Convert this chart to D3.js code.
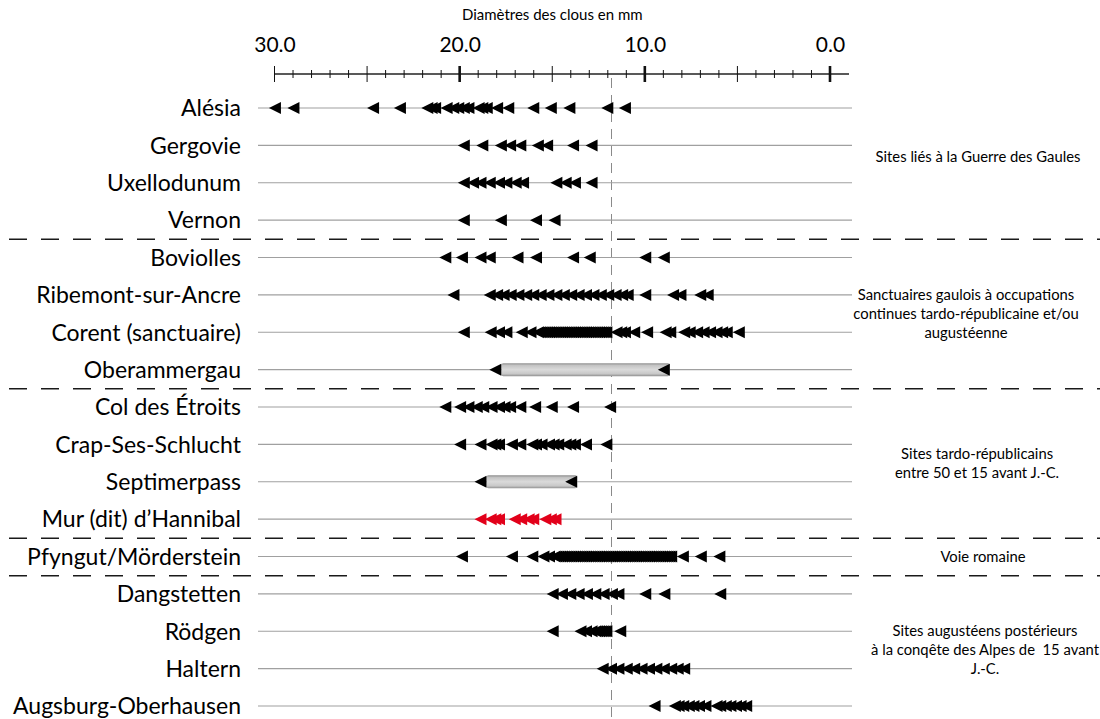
<!DOCTYPE html>
<html>
<head>
<meta charset="utf-8">
<script src="https://cdn.jsdelivr.net/npm/d3@7"></script>
<style>
  body { margin: 0; background: #fff; }
  text { font-family: Lato, "Open Sans", sans-serif; fill: #000; white-space: pre; }
</style>
</head>
<body>
<script>
// sites, top to bottom
const sites = [
  'Alésia', 'Gergovie', 'Uxellodunum', 'Vernon',
  'Boviolles', 'Ribemont-sur-Ancre', 'Corent (sanctuaire)', 'Oberammergau',
  'Col des Étroits', 'Crap-Ses-Schlucht', 'Septimerpass', 'Mur (dit) d’Hannibal',
  'Pfyngut/Mörderstein',
  'Dangstetten', 'Rödgen', 'Haltern', 'Augsburg-Oberhausen'
]

// nail diameters (mm)
const alesia = [30.3, 29.3, 25.0, 23.55, 22.07, 21.84, 21.65, 21.03, 20.67, 20.4, 20.1, 19.85, 19.3, 19.1, 18.86, 18.3, 17.7, 16.35, 15.4, 14.4, 12.35, 11.4]
const gergovie = [20.1, 19.1, 18.1, 17.6, 17.05, 16.1, 15.6, 14.2, 13.2]
const uxellodunum = [20.1, 19.6, 19.2, 18.7, 18.2, 17.8, 17.3, 16.9, 15.1, 14.6, 14.1, 13.2]
const vernon = [20.1, 18.1, 16.2, 15.2]
const boviolles = [21.1, 20.2, 19.2, 18.7, 17.2, 16.2, 14.2, 13.3, 10.3, 9.3]
const ribemont = [20.66, 18.7, 18.3, 17.95, 17.57, 17.15, 16.73, 16.35, 15.95, 15.53, 15.1, 14.7, 14.3, 13.9, 13.5, 13.1, 12.7, 12.3, 11.9, 11.55, 11.25, 10.3, 8.8, 8.4, 7.33, 6.93]
const corent = [20.1, 18.65, 18.2, 17.8, 16.97, 16.5,
  16.1, 16.0, 15.9, 15.8, 15.7, 15.6, 15.5, 15.4, 15.3, 15.2, 15.1, 15.0, 14.9, 14.8, 14.7, 14.6, 14.5, 14.4, 14.3,
  14.2, 14.1, 14.0, 13.9, 13.8, 13.7, 13.6, 13.5, 13.4, 13.3, 13.2, 13.1, 13.0, 12.9, 12.8, 12.7, 12.6, 12.5, 12.4,
  11.85, 11.6, 11.4, 10.9, 10.2, 9.2, 8.95, 8.2, 7.9, 7.5, 7.15, 6.8, 6.45, 6.15, 5.9, 5.25]
const oberammergau = [18.4, 9.3]
const colDesEtroits = [21.1, 20.3, 19.85, 19.4, 19.05, 18.6, 18.2, 17.9, 17.6, 17.05, 16.25, 15.35, 14.2, 12.2]
const crapSesSchlucht = [20.3, 19.2, 18.6, 18.4, 18.2, 17.5, 17.05, 16.4, 16.2, 15.9, 15.5, 15.25, 15.0, 14.6, 14.35, 14.1, 13.5, 12.4]
const septimerpass = [19.2, 14.3]
const murHannibal = [19.2, 18.65, 18.4, 18.2, 17.35, 17.0, 16.6, 16.35, 15.7, 15.4, 15.15]
const pfyngut = [20.2, 17.5, 16.4, 15.8, 15.5,
  15.2, 15.1, 15.0, 14.9, 14.8, 14.7, 14.6, 14.5, 14.4, 14.3, 14.2, 14.1, 14.0, 13.9, 13.8, 13.7, 13.6, 13.5,
  13.4, 13.3, 13.2, 13.1, 13.0, 12.9, 12.8, 12.7, 12.6, 12.5, 12.4, 12.3, 12.2, 12.1, 12.0, 11.9, 11.8, 11.7,
  11.6, 11.5, 11.4, 11.3, 11.2, 11.1, 11.0, 10.9, 10.8, 10.7, 10.6, 10.5, 10.4, 10.3, 10.2, 10.1, 10.0, 9.9,
  9.8, 9.7, 9.6, 9.5, 9.4, 9.3, 9.2, 9.1, 9.0, 8.9, 8.27, 7.3, 6.3]
const dangstetten = [15.3, 14.8, 14.35, 13.9, 13.45, 13.0, 12.55, 12.1, 11.75, 10.3, 9.27, 6.25]
const rodgen = [15.3, 13.8, 13.5, 13.2, 13.0, 12.9, 12.8, 12.7, 12.6, 12.5, 12.4, 11.65]
const haltern = [12.6, 12.15, 11.75, 11.3, 10.9, 10.5, 10.1, 9.7, 9.3, 8.9, 8.55, 8.2]
const augsburg = [9.8, 8.7, 8.5, 8.25, 7.95, 7.7, 7.4, 7.05, 6.45, 6.25, 5.95, 5.7, 5.4, 5.15, 4.85]

const siteValues = [alesia, gergovie, uxellodunum, vernon, boviolles, ribemont, corent, oberammergau,
  colDesEtroits, crapSesSchlucht, septimerpass, murHannibal, pfyngut, dangstetten, rodgen, haltern, augsburg]

// sites shown as a continuous range (first and last value)
const rangeSites = ['Oberammergau', 'Septimerpass']
const redSites = ['Mur (dit) d’Hannibal']

const tickLabels = [30, 20, 10, 0]
const refDiameter = 11.8

const separatorsAfter = ['Vernon', 'Oberammergau', 'Mur (dit) d’Hannibal', 'Pfyngut/Mörderstein']
const groupLines = [
  ['Sites liés à la Guerre des Gaules'],
  ['Sanctuaires gaulois à occupations', 'continues tardo-républicaine et/ou', 'augustéenne'],
  ['Sites tardo-républicains', 'entre 50 et 15 avant J.-C.'],
  ['Voie romaine'],
  ['Sites augustéens postérieurs', 'à la conqête des Alpes de  15 avant', 'J.-C.']
]

const W = 1100, H = 719
const triW = 12, triH = 12

let svg = d3.select('body')
  .append('svg')
  .attr('width', W)
  .attr('height', H)

let x = d3.scaleLinear()
  .domain([30, 0])
  .range([274.5, 830])

let y = d3.scalePoint()
  .domain(sites)
  .range([108, 706])

let defs = svg.append('defs')
let grad = defs.append('linearGradient')
  .attr('id', 'barGrad')
  .attr('x1', 0).attr('y1', 0).attr('x2', 0).attr('y2', 1)
grad.selectAll('stop')
  .data([[0, '#8c8c8c'], [0.18, '#c4c4c4'], [0.5, '#dadada'], [0.82, '#c8c8c8'], [1, '#909090']])
  .join('stop')
  .attr('offset', d => d[0])
  .attr('stop-color', d => d[1])

// title + axis
const axisY = 74
svg.append('text')
  .attr('x', (x(30) + x(0)) / 2)
  .attr('y', 20)
  .attr('text-anchor', 'middle')
  .style('font-size', '15px')
  .text('Diamètres des clous en mm')

let axis = svg.append('g')
  .attr('transform', `translate(0,${axisY})`)
  .call(d3.axisTop(x)
    .tickValues(tickLabels)
    .tickFormat(d3.format('.1f'))
    .tickSize(0)
    .tickPadding(22))
axis.select('.domain').remove()
axis.selectAll('text')
  .style('font-size', '21px')
  .style('font-family', 'Lato, sans-serif')

svg.append('line')
  .attr('x1', x(30)).attr('x2', x(0) + 19)
  .attr('y1', axisY).attr('y2', axisY)
  .attr('stroke', '#222').attr('stroke-width', 1.5)

svg.append('g')
  .selectAll('line')
  .data(d3.range(0, 31))
  .join('line')
  .attr('x1', d => x(d)).attr('x2', d => x(d))
  .attr('y1', d => axisY - (d % 5 === 0 ? 8 : 4))
  .attr('y2', d => axisY + (d % 5 === 0 ? 8 : 4))
  .attr('stroke', '#111')
  .attr('stroke-width', d => (d % 10 === 0 && d !== 30 ? 2.6 : 1))

// vertical reference line
svg.append('line')
  .attr('x1', x(refDiameter)).attr('x2', x(refDiameter))
  .attr('y1', axisY + 4).attr('y2', H)
  .attr('stroke', '#8a8a8a')
  .attr('stroke-width', 1)
  .attr('stroke-dasharray', '10,7')

// row lines + labels
let rows = svg.append('g')
rows.selectAll('line')
  .data(sites)
  .join('line')
  .attr('x1', 258).attr('x2', 852)
  .attr('y1', d => y(d)).attr('y2', d => y(d))
  .attr('stroke', '#a0a0a0')
  .attr('stroke-width', 1.2)

rows.selectAll('text')
  .data(sites)
  .join('text')
  .attr('x', 241)
  .attr('y', d => y(d))
  .attr('dy', '0.36em')
  .attr('text-anchor', 'end')
  .style('font-size', '23px')
  .text(d => d)

// group separators
const step = y.step()
svg.append('g')
  .selectAll('line')
  .data(separatorsAfter)
  .join('line')
  .attr('x1', 9).attr('x2', W)
  .attr('y1', d => y(d) + step / 2 + 0.5).attr('y2', d => y(d) + step / 2 + 0.5)
  .attr('stroke', '#1a1a1a')
  .attr('stroke-width', 1.5)
  .attr('stroke-dasharray', '18,14')

// group labels
const groupPos = [[978, 1.3], [966, 5.5], [977, 9.5], [983, 12], [985, 14.5]]
groupLines.forEach((lines, i) => {
  const cy = y(sites[0]) + groupPos[i][1] * step
  const lh = 18.8
  svg.append('text')
    .attr('text-anchor', 'middle')
    .style('font-size', '14.8px')
    .selectAll('tspan')
    .data(lines)
    .join('tspan')
    .attr('x', groupPos[i][0])
    .attr('y', (d, j) => cy + (j - (lines.length - 1) / 2) * lh)
    .attr('dy', '0.35em')
    .text(d => d)
})

// markers
const tri = (v, yc) => {
  const xt = x(v)
  return `M${xt},${yc}L${xt + triW},${yc - triH / 2}L${xt + triW},${yc + triH / 2}Z`
}

let marks = svg.append('g')
sites.forEach((s, i) => {
  const vals = siteValues[i]
  const yc = y(s)
  const col = redSites.includes(s) ? '#e2001a' : '#000'
  if (rangeSites.includes(s)) {
    marks.append('rect')
      .attr('x', x(vals[0]) + triW)
      .attr('y', yc - 6.5)
      .attr('width', x(vals[1]) - x(vals[0]))
      .attr('height', 13)
      .attr('rx', 2)
      .attr('fill', 'url(#barGrad)')
  }
  marks.append('g')
    .selectAll('path')
    .data(vals)
    .join('path')
    .attr('d', d => tri(d, yc))
    .attr('fill', col)
})
</script>
</body>
</html>
